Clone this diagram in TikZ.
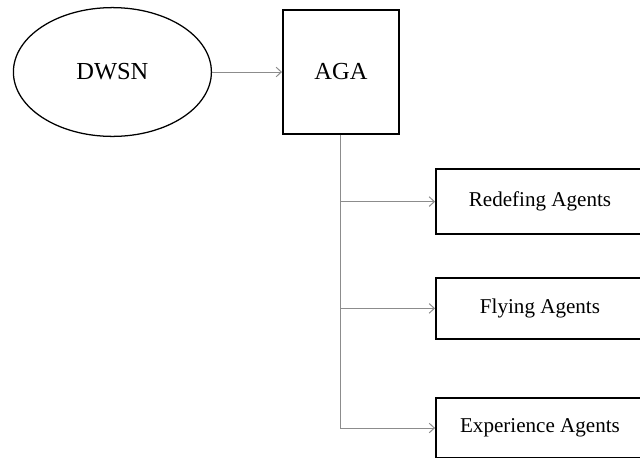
\documentclass[tikz,border=0pt]{standalone}
\usepackage{fontspec}
\setmainfont{Liberation Serif}
\usetikzlibrary{positioning,arrows.meta,shapes.geometric}
\definecolor{linkgray}{HTML}{8C8C8C}

\begin{document}
\begin{tikzpicture}[>={Straight Barb[length=1.3mm,width=2.4mm]},node distance=1.75cm]
  \useasboundingbox (0,0) rectangle (16,-11.425);
  \clip (0,0) rectangle (16,-11.425);
  \node[draw,ellipse,line width=0.9pt,minimum width=4.95cm,minimum height=3.22cm,inner sep=0pt,font=\fontsize{17.4}{20}\selectfont] (dwsn) at (2.81,-1.8) {DWSN};
  \node[draw,line width=1.3pt,right=of dwsn,minimum width=2.9cm,minimum height=3.1cm,font=\fontsize{17.4}{20}\selectfont] (aga) {AGA};
  \node[draw,line width=1.3pt,minimum width=5.2cm,minimum height=1.62cm,font=\fontsize{15}{18}\selectfont] (redef) at (13.5,-5.04) {Redefing Agents};
  \node[draw,line width=1.3pt,minimum width=5.2cm,minimum height=1.52cm,font=\fontsize{15}{18}\selectfont] (fly) at (13.5,-7.71) {Flying Agents};
  \node[draw,line width=1.3pt,minimum width=5.2cm,minimum height=1.52cm,font=\fontsize{15}{18}\selectfont] (exp) at (13.5,-10.7) {Experience Agents};
  \draw[->,linkgray,line width=0.7pt] (dwsn)--(aga);
  \draw[->,linkgray,line width=0.7pt] (aga.south) |- (redef.west);
  \draw[->,linkgray,line width=0.7pt] (aga.south) |- (fly.west);
  \draw[->,linkgray,line width=0.7pt] (aga.south) |- (exp.west);
\end{tikzpicture}
\end{document}
